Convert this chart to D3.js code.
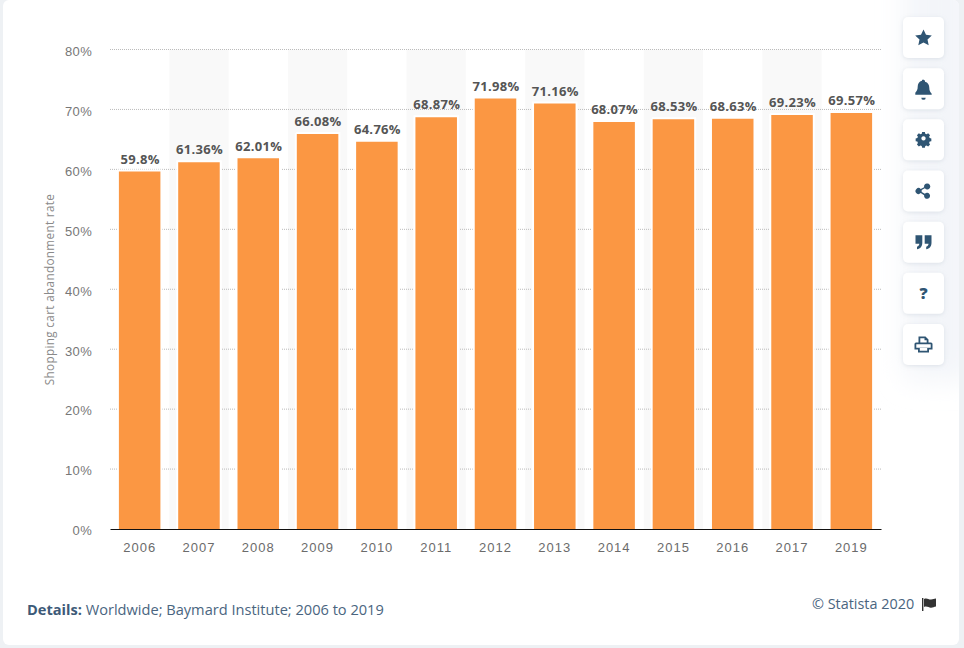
<!DOCTYPE html>
<html>
<head>
<meta charset="utf-8">
<script src="https://cdn.jsdelivr.net/npm/d3@7"></script>
<style>
  html, body { margin: 0; padding: 0; background: #fff; }
  svg { display: block; font-family: "Open Sans", sans-serif; }
  .tick-y { font-size: 13px; fill: #777; letter-spacing: 0.3px; }
  .tick-x { font-size: 13px; fill: #6b6b6b; letter-spacing: 1px; }
  .bar-label { font-size: 13px; font-weight: 700; fill: #555; letter-spacing: 0.3px; }
</style>
</head>
<body>
<svg id="chart" width="964" height="648"></svg>
<script>
const years = ["2006","2007","2008","2009","2010","2011","2012","2013","2014","2015","2016","2017","2019"];
const rates = [59.8,61.36,62.01,66.08,64.76,68.87,71.98,71.16,68.07,68.53,68.63,69.23,69.57];
const rateLabels = ["59.8%","61.36%","62.01%","66.08%","64.76%","68.87%","71.98%","71.16%","68.07%","68.53%","68.63%","69.23%","69.57%"];
const yTicks = [0,10,20,30,40,50,60,70,80];
const iconNames = ["star","bell","gear","share","quote","help","print"];

const margin = { top: 49.5, left: 110, right: 83, bottom: 119 };
const svg = d3.select("#chart");
const width = 964 - margin.left - margin.right;
const height = 648 - margin.top - margin.bottom;

const defs = svg.append("defs");
defs.append("filter").attr("id", "soft")
    .attr("x", "-50%").attr("y", "-20%").attr("width", "200%").attr("height", "140%")
  .append("feGaussianBlur").attr("stdDeviation", 14);
defs.append("filter").attr("id", "btnShadow")
    .attr("x", "-30%").attr("y", "-30%").attr("width", "160%").attr("height", "160%")
  .append("feDropShadow")
    .attr("dx", 0).attr("dy", 1).attr("stdDeviation", 2)
    .attr("flood-color", "#9aa8b8").attr("flood-opacity", 0.28);
defs.append("clipPath").attr("id", "card")
  .append("rect").attr("x", 3).attr("y", 0).attr("width", 956).attr("height", 645).attr("rx", 6);

// page frame
svg.append("rect").attr("width", 964).attr("height", 648).attr("fill", "#eef1f4");
svg.append("rect").attr("x", 3).attr("y", 0).attr("width", 956).attr("height", 645)
    .attr("rx", 6).attr("fill", "#fff");
svg.append("g").attr("clip-path", "url(#card)")
  .append("rect").attr("x", 905).attr("y", -40).attr("width", 70).attr("height", 420)
    .attr("fill", "#f3f5f9")
    .attr("filter", "url(#soft)");

const chart = svg.append("g").attr("transform", `translate(${margin.left},${margin.top})`);

const x = d3.scaleBand().domain(years).range([0, width]).paddingInner(0.266).paddingOuter(0.133);
const bandX = d3.scaleBand().domain(years).range([0, width]);
const y = d3.scaleLinear().domain([0, 80]).range([height, 0]);

// alternating stripes
chart.selectAll(".stripe")
  .data(years.filter((d, i) => i % 2 == 1))
  .join("rect")
    .attr("class", "stripe")
    .attr("x", d => bandX(d))
    .attr("y", 0)
    .attr("width", bandX.bandwidth())
    .attr("height", height)
    .attr("fill", "#f9f9f9");

// grid lines
chart.selectAll(".grid")
  .data(yTicks.filter(d => d > 0))
  .join("line")
    .attr("class", "grid")
    .attr("x1", 0).attr("x2", width)
    .attr("y1", d => y(d)).attr("y2", d => y(d))
    .attr("stroke", "#bbb")
    .attr("stroke-dasharray", "1 1");

// y axis labels
const yAxis = d3.axisLeft(y).tickValues(yTicks).tickSize(0).tickPadding(18).tickFormat(d => d + "%");
const yAxisG = chart.append("g").call(yAxis);
yAxisG.select(".domain").remove();
yAxisG.selectAll("text")
    .attr("class", "tick-y")
    .attr("font-family", null).attr("font-size", null)
    .attr("dy", "0.45em");

// bars, white border on top and sides only so they still meet the axis
chart.selectAll(".bar")
  .data(years)
  .join("rect")
    .attr("class", "bar")
    .attr("x", d => x(d))
    .attr("y", (d, i) => y(rates[i]))
    .attr("width", x.bandwidth())
    .attr("height", (d, i) => height - y(rates[i]))
    .attr("fill", "#fb9743")
    .attr("stroke", "#fff")
    .attr("stroke-width", 2)
    .attr("stroke-dasharray", (d, i) => {
      let w = x.bandwidth(), h = height - y(rates[i]);
      return `${w + h} ${w} ${h}`;
    });

// value labels
chart.selectAll(".bar-label")
  .data(years)
  .join("text")
    .attr("class", "bar-label")
    .attr("x", d => x(d) + x.bandwidth() / 2 + 0.5)
    .attr("y", (d, i) => y(rates[i]) - 6.8)
    .attr("text-anchor", "middle")
    .text((d, i) => rateLabels[i]);

// x axis
const xAxis = d3.axisBottom(bandX).tickSize(0).tickPadding(14);
const xAxisG = chart.append("g").attr("transform", `translate(0,${height})`).call(xAxis);
xAxisG.select(".domain").attr("stroke", "#111").attr("stroke-width", 1.2);
xAxisG.selectAll("text").attr("class", "tick-x").attr("font-family", null).attr("font-size", null);

// y axis title
svg.append("text")
    .attr("transform", "translate(53.5,289.5) rotate(-90)")
    .attr("text-anchor", "middle")
    .attr("font-size", 11.7)
    .attr("letter-spacing", 0.35)
    .attr("fill", "#8a8a8a")
    .text("Shopping cart abandonment rate");

// footer
const details = svg.append("text").attr("x", 27).attr("y", 615).attr("font-size", 14.6).attr("fill", "#4a6580");
details.append("tspan").attr("font-weight", 700).attr("fill", "#3d5a78").text("Details:");
details.append("tspan").text(" Worldwide; Baymard Institute; 2006 to 2019");

svg.append("text").attr("x", 812).attr("y", 609).attr("font-size", 14.4).attr("fill", "#4a6580")
    .text("© Statista 2020");
svg.append("path")
    .attr("transform", "translate(922,598)")
    .attr("d", "M0 0h1.4v13H0z M2 1c3-1.6 5 1 7 .5 2-.3 3-.7 5-1v8c-2 .4-3 1-5 1.200-2 .2-4-2-7-.7z")
    .attr("fill", "#333");

// side buttons
const iconPaths = {
  star: "M0 -8l2.500 5.300 5.800 .7-4.300 4 1.200 5.800L0 5 -5.200 7.800l1.200-5.800-4.300-4 5.800-.7z",
  bell: "M0 -9a1.500 1.500 0 0 1 1.500 1.500v.7c3 .7 4.300 3.300 4.300 6 0 3 1 4.300 2.400 5.800v1.200H-8.200V4c1.400-1.500 2.400-2.800 2.400-5.800 0-2.700 1.300-5.300 4.300-6v-.7A1.500 1.500 0 0 1 0 -9zM-2.200 9h4.400a2.200 2.200 0 0 1-4.400 0z",
  gear: "M-1.700 -8h3.400l.5 2.200 1.600 .7 2-1.200 2.400 2.400-1.200 2 .7 1.600 2.100 .5v3.400l-2.100 .5-.7 1.600 1.200 2-2.400 2.400-2-1.200-1.600 .7-.5 2.200h-3.400l-.5-2.200-1.600-.7-2 1.200-2.400-2.400 1.200-2-.7-1.600-2.100-.5v-3.400l2.100-.5.7-1.600-1.200-2 2.400-2.400 2 1.200 1.600-.7zM0 -2.700a2.700 2.700 0 1 0 .01 0z",
  share: "M3.800 -7.500a3 3 0 1 1-2.400 4.800l-3.300 1.700a3 3 0 0 1 0 2l3.300 1.700a3 3 0 1 1-.8 1.600L-2.800 2.100a3 3 0 1 1 0-4.200L.6 -3.800a3 3 0 0 1 3.200-3.700z",
  quote: "M-8 -7h6.800v7.500c0 3.500-2 6-5.300 6.500v-2.500c1.500-.5 2.300-1.700 2.300-3H-8zM1.200 -7H8v7.500c0 3.500-2 6-5.300 6.500v-2.500c1.500-.5 2.300-1.700 2.300-3H1.200z",
  print: "M-5 -8h7l3 3v3h2.500A1.500 1.500 0 0 1 9 -.5V5H5.500v3h-11V5H-9V-.5A1.500 1.500 0 0 1 -7.500 -2H-5zM-3.200 -6.200V-2H3.200V-4.300H1V-6.200zM-3.700 3.500V6.200H3.700V3.500zM-7.200 -.2V3.200H7.200V-.2z"
};

const buttons = svg.selectAll(".side-btn")
  .data(iconNames)
  .join("g")
    .attr("class", "side-btn")
    .attr("transform", (d, i) => `translate(923.500,${37.500 + i * 51.17})`);

buttons.append("rect")
    .attr("x", -20.500).attr("y", -20.500)
    .attr("width", 41).attr("height", 41)
    .attr("rx", 5)
    .attr("fill", "#fff")
    .attr("filter", "url(#btnShadow)");

buttons.filter(d => d != "help").append("path")
    .attr("d", d => iconPaths[d])
    .attr("transform", d => d == "gear" ? "translate(0,-1.5) scale(0.8)" : null)
    .attr("fill", "#2f5573")
    .attr("fill-rule", "evenodd");

buttons.filter(d => d == "help").append("text")
    .attr("text-anchor", "middle")
    .attr("y", 6)
    .attr("font-size", 16)
    .attr("font-weight", 800)
    .attr("fill", "#2f5573")
    .text("?");
</script>
</body>
</html>
